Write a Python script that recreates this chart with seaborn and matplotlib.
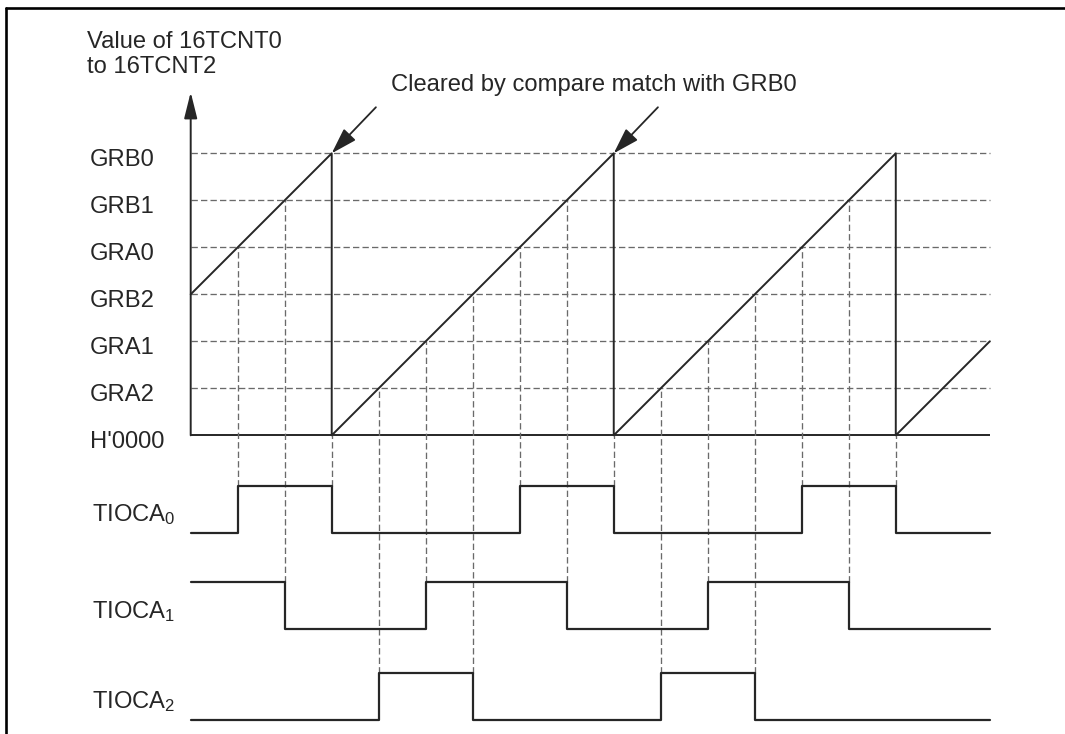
import pandas as pd
import matplotlib
matplotlib.use("Agg")
import matplotlib.pyplot as plt
from matplotlib.lines import Line2D
import seaborn as sns

# counter compare levels, bottom to top
level_names = ["H'0000", "GRA2", "GRA1", "GRB2", "GRA0", "GRB1", "GRB0"]
level_values = [0, 1, 2, 3, 4, 5, 6]

# 16TCNT sawtooth vertices (time, count)
cnt_t = [0, 3, 3, 9, 9, 15, 15, 17]
cnt_v = [3, 6, 0, 6, 0, 6, 0, 2]
clear_times = [3, 9]          # clears pointed at by the note
clear_level = 6               # GRB0

# output pins: initial state, toggle times, counter value at each toggle
wave_names = ["TIOCA$_0$", "TIOCA$_1$", "TIOCA$_2$"]
wave_init = [0, 1, 0]
wave_edges = [
    [1, 3, 7, 9, 13, 15],
    [2, 5, 8, 11, 14],
    [4, 6, 10, 12],
]
edge_levels = [
    [4, 0, 4, 0, 4, 0],
    [5, 2, 5, 2, 5],
    [1, 3, 1, 3],
]
t_end = 17

# layout (data units: one level step = 47 px)
wave_base = [-2.07, -4.13, -6.06]
wave_amp = 1.0
ink = "#262626"
dash_col = "#6a6a6a"
dash = (0, (4.8, 2.4))
fs = 17.1

sns.set_theme(style="white")
plt.rcParams["font.family"] = ["Liberation Sans", "DejaVu Sans"]
plt.rcParams["mathtext.default"] = "regular"

fig = plt.figure(figsize=(10.65, 7.34), dpi=100)
ax = fig.add_axes([0, 0, 1, 1])
ax.set_xlim(-4.057, 18.60)
ax.set_ylim(-6.355, 9.262)
ax.axis("off")

# horizontal guides for the compare registers
ax.hlines(level_values[1:], 0, t_end, colors=dash_col, linestyles=dash, lw=0.95)
ax.hlines(level_values[0], 0, t_end, colors=ink, lw=1.4)

# vertical guides from counter match down to each pin edge
for base, edges, lev in zip(wave_base, wave_edges, edge_levels):
    ax.vlines(edges, base + wave_amp, lev, colors=dash_col, linestyles=dash, lw=0.95)

# counter sawtooth
cnt = pd.DataFrame({"t": cnt_t, "v": cnt_v})
sns.lineplot(data=cnt, x="t", y="v", ax=ax, color=ink, lw=1.4,
             estimator=None, sort=False)

# pin waveforms
for name, base, init, edges in zip(wave_names, wave_base, wave_init, wave_edges):
    times = [0] + edges + [t_end]
    states = [init]
    for _ in edges:
        states.append(1 - states[-1])
    states.append(states[-1])
    df = pd.DataFrame({"t": times, "y": [base + s * wave_amp for s in states]})
    sns.lineplot(data=df, x="t", y="y", ax=ax, color=ink, lw=1.6,
                 estimator=None, sort=False, drawstyle="steps-post")
    ax.text(-2.10, base + 0.25, name, fontsize=fs, color=ink, ha="left", va="baseline")

# y axis with arrow
ax.annotate("", xy=(0, 7.30), xytext=(0, 0),
            arrowprops=dict(arrowstyle="-|>,head_length=0.8,head_width=0.2",
                            color=ink, lw=1.4, mutation_scale=20,
                            shrinkA=0, shrinkB=0))

# level labels
for name, val in zip(level_names, level_values):
    ax.text(-2.14, val - 0.26, name, fontsize=fs, color=ink, ha="left", va="baseline")

ax.text(-2.21, 8.24, "Value of 16TCNT0", fontsize=fs, color=ink, ha="left", va="baseline")
ax.text(-2.21, 7.71, "to 16TCNT2", fontsize=fs, color=ink, ha="left", va="baseline")

# note with arrows at the clears
ax.text(4.255, 7.33, "Cleared by compare match with GRB0", fontsize=fs,
        color=ink, ha="left", va="baseline")
for tc in clear_times:
    ax.annotate("", xy=(tc, clear_level), xytext=(tc + 0.94, clear_level + 0.98),
                arrowprops=dict(arrowstyle="-|>,head_length=0.8,head_width=0.25",
                                color=ink, lw=1.3, mutation_scale=20,
                                shrinkA=0, shrinkB=0))

# frame (left and top edges only)
fig.add_artist(Line2D([6 / 1065, 6 / 1065], [0, 1 - 7.5 / 734],
                      transform=fig.transFigure, color="black", lw=1.9))
fig.add_artist(Line2D([6 / 1065, 1], [1 - 7.5 / 734, 1 - 7.5 / 734],
                      transform=fig.transFigure, color="black", lw=1.9))

fig.savefig("out.png", dpi=100)
